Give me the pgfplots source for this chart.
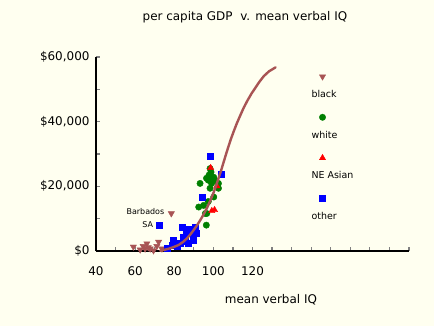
\documentclass[border=0pt]{standalone}
\usepackage{fontspec}
\setmainfont{DejaVu Sans}
\usepackage{pgfplots}
\pgfplotsset{compat=1.18}
\definecolor{bg}{RGB}{255,255,240}
\definecolor{blk}{RGB}{168,84,84}
\definecolor{wht}{RGB}{0,128,0}
\definecolor{nea}{RGB}{255,0,0}
\definecolor{oth}{RGB}{0,0,255}
\definecolor{tickgray}{RGB}{128,128,128}
\pgfplotsset{base/.style={at={(0bp,0bp)}, anchor=south west,
  scale only axis, width=313bp, height=194bp,
  xmin=40, xmax=200, ymin=0, ymax=60000, clip=false}}
\begin{document}
\begin{tikzpicture}
\fill[bg] (-96bp,-75bp) rectangle (338bp,251bp);
\path[use as bounding box] (-96bp,-75bp) rectangle (338bp,251bp);
\begin{axis}[
  base,
  axis lines=left, axis line style={-, black, line width=1.6bp},
  tick align=inside, major tick length=4bp,
  tick style={tickgray, line width=1.2bp},
  xtick={40,50,...,200}, xticklabels={40,,60,,80,,100,,120},
  ytick={0,10000,...,60000},
  yticklabels={{\$0},{},{\$20,000},{},{\$40,000},{},{\$60,000}},
  scaled y ticks=false,
  tick label style={font=\fontsize{12}{14}\selectfont},
  xticklabel style={yshift=-12bp},
  yticklabel style={xshift=-3bp},
  legend style={draw=none, fill=none, at={(0.672,0.85)}, anchor=north west,
    font=\fontsize{9.5}{11}\selectfont, row sep=28bp},
  legend cell align=left,
  legend image code/.code={\path[draw=none,fill=none] (0bp,-3bp) rectangle (0bp,3bp);
    \draw[mark repeat=1,#1,overlay] plot coordinates {(13bp,18bp)};},
]
\addplot[only marks, mark=triangle*, mark size=3.6bp, color=blk, mark options={rotate=180}]
coordinates {
(59.1,1300) (62.6,400) (64.1,1500) (65.1,700) (66.0,2300) (66.7,1100)
(67.7,700) (69.4,150) (71.1,1500) (72.0,2800) (73.7,700) (78.5,11600)
};
\addlegendentry{black}
\addplot[only marks, mark=*, mark size=3.2bp, color=wht]
coordinates {
(98.3,25500) (97.8,23500) (99.1,23000) (97.4,21900) (100.8,21900)
(93.2,20900) (99.1,20900) (102.6,20900) (98.3,19400) (102.6,19400)
(100.2,16700) (97.4,15300) (95.0,14100) (92.5,13600) (96.6,11600)
(96.4,8000) (98.8,24400) (100.2,22800) (96.5,22500) (95.9,11600)
};
\addlegendentry{white}
\addplot[only marks, mark=triangle*, mark size=3.6bp, color=nea]
coordinates {
(98.6,25700) (101.8,20100) (99.2,12400) (100.6,12700)
};
\addlegendentry{NE Asian}
\addplot[only marks, mark=square*, mark size=3bp, color=oth]
coordinates {
(72.3,8000) (98.3,29200) (104.2,23700) (94.2,16700) (83.9,7500)
(87.8,6700) (90.8,7500) (79.6,3400) (84.8,4400) (88.2,5400)
(89.9,3400) (85.6,2900) (81.4,1500) (78.8,1850) (87.3,2370)
(83.1,2370) (76.4,900) (91.0,5500) (86.0,5900) (84.8,3900)
};
\addlegendentry{other}
\node[anchor=east, font=\fontsize{8}{10}\selectfont, inner sep=1bp] at (axis cs:75.5,12300) {Barbados};
\node[anchor=east, font=\fontsize{8}{10}\selectfont, inner sep=1bp] at (axis cs:69.8,8300) {SA};
\node[font=\fontsize{12}{14}\selectfont] at (rel axis cs:0.559,-0.2526) {mean verbal IQ};
\node[font=\fontsize{12}{14}\selectfont] at (rel axis cs:0.476,1.206) {per capita GDP\ \ v. mean verbal IQ};
\end{axis}
\begin{axis}[base, hide axis]
\addplot[sharp plot, no marks, draw=blk, line width=2.4bp, line join=round, line cap=round]
coordinates {
(72.8,100) (74.5,300) (77.9,830) (80,1300) (82.2,1850) (84.5,2800)
(86.5,3900) (88.2,5100) (89.9,6460) (91.6,7900) (93.3,9540) (95,11300)
(96.8,13400) (98.5,15700) (100,17900) (101.5,20400) (102.7,22600)
(104,25000) (105.3,27600) (106.5,30000) (107.8,32500) (109,34700)
(110.4,37000) (112,39500) (113.8,42000) (115.5,44300) (117.3,46400)
(119.5,48700) (121.5,50500) (123.5,52300) (125.8,54100) (128.5,55600)
(131.8,56800)
};
\end{axis}
\end{tikzpicture}
\end{document}
